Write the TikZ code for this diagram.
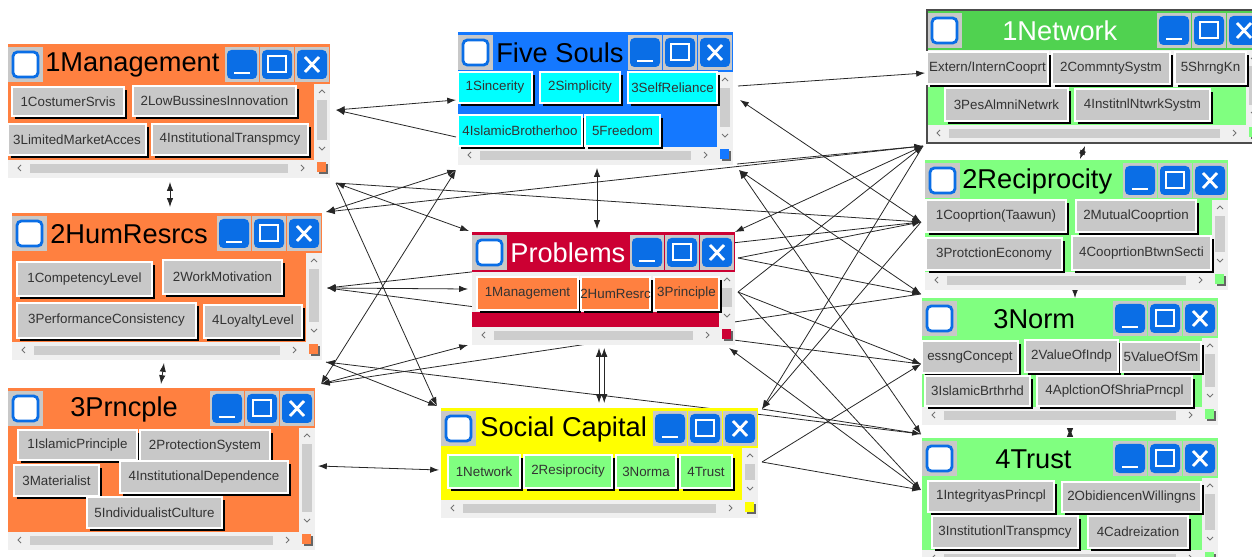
\documentclass[tikz,border=0pt]{standalone}
\usepackage{fontspec}
\setmainfont{Liberation Sans}
\usepackage{tikz}
\usetikzlibrary{arrows.meta,fit,shadows}
\definecolor{winorange}{RGB}{255,128,64}
\definecolor{soulblue}{RGB}{20,120,255}
\definecolor{soulcyan}{RGB}{0,255,255}
\definecolor{crimson}{RGB}{204,0,51}
\definecolor{sunyellow}{RGB}{255,255,0}
\definecolor{lightgreen}{RGB}{128,255,128}
\definecolor{netgreen}{RGB}{80,210,80}
\definecolor{winblue}{RGB}{10,110,230}
\definecolor{btngray}{RGB}{200,200,200}
\definecolor{winbg}{RGB}{240,240,240}
\definecolor{thumbgray}{RGB}{205,205,205}
\newcommand{\appwin}[9]{%
  \fill[winbg] (#1,#2) rectangle (#3,#4);
  \fill[#5] (#1,#2) rectangle (#3,#2+40);
  \fill[#6] (#1,#2+40) rectangle (#3-16,#4-18);
  \fill[btngray] (#1,#2+3) rectangle (#1+35,#2+38);
  \draw[iconbox] (#1+5,#2+8) rectangle (#1+30,#2+33);
  \node[titletext, text=#9, anchor=west] at (#7,#2+21) {#8};
  \foreach \k in {0,1,2} {
    \fill[btngray] (#3-105+35*\k,#2+3) rectangle (#3-71+35*\k,#2+38);
    \fill[winbtn] (#3-103+35*\k,#2+6) rectangle (#3-73+35*\k,#2+35);
  }
  \draw[wglyph] (#3-96,#2+29) -- (#3-80,#2+29);
  \draw[wglyph] (#3-62,#2+12) rectangle (#3-44,#2+28);
  \draw[wglyph, line width=1.6pt] (#3-25,#2+13) -- (#3-11,#2+28) (#3-25,#2+28) -- (#3-11,#2+13);
  \fill[thumb] (#3-13,#2+56) rectangle (#3-3,#4-38);
  \draw[chev] (#3-11,#2+49) -- (#3-8,#2+46) -- (#3-5,#2+49) (#3-11,#4-31) -- (#3-8,#4-28) -- (#3-5,#4-31);
  \fill[thumb] (#1+22,#4-14) rectangle (#3-42,#4-5);
  \draw[chev] (#1+13,#4-13) -- (#1+10,#4-10) -- (#1+13,#4-7) (#3-29,#4-13) -- (#3-26,#4-10) -- (#3-29,#4-7);
  \fill[black!60] (#3-11,#4-14) rectangle (#3-2,#4-4);
  \fill[#6] (#3-13,#4-16) rectangle (#3-4,#4-6);
}

\begin{document}
\begin{tikzpicture}[x=0.02cm, y=-0.02cm, >={Latex[length=5pt,width=3.6pt]},
  link/.style={->, line width=.45pt, black!85},
  both/.style={<->, line width=.45pt, black!85},
  btn/.style={fill=btngray, draw=white, line width=.6pt, inner sep=0pt,
    general shadow={fill=black, shadow xshift=1.7pt, shadow yshift=-1.7pt}},
  btntext/.style={inner sep=0pt, text=black!80, font=\fontsize{7.6}{9}\selectfont},
  titletext/.style={font=\fontsize{15.5}{18}\selectfont, inner sep=0pt},
  iconbox/.style={draw=winblue, fill=white, line width=1.6pt, rounded corners=2.5pt},
  winbtn/.style={fill=winblue, rounded corners=2.5pt},
  wglyph/.style={draw=white, line width=1.2pt},
  thumb/.style={fill=thumbgray},
  chev/.style={draw=black!55, line width=.5pt}]
\useasboundingbox (0,0) rectangle (1252,557);
\fill[white] (0,0) rectangle (1252,557);

\coordinate (mgE1) at (336,110);
\coordinate (mgE2) at (336,183);
\coordinate (mgS) at (170,182);
\coordinate (humN) at (170,207);
\coordinate (humE1) at (326,212);
\coordinate (humE2) at (327,288);
\coordinate (humE3) at (326,362);
\coordinate (humS) at (164,363);
\coordinate (prinN) at (161,384);
\coordinate (prinNE) at (321,384);
\coordinate (prinE) at (318,466);
\coordinate (soW1) at (456,100);
\coordinate (soW2) at (456,137);
\coordinate (soW3) at (456,170);
\coordinate (soS) at (597,168);
\coordinate (soE1) at (738,86);
\coordinate (soE2) at (740,100);
\coordinate (soE3) at (737,164);
\coordinate (soE4) at (739,170);
\coordinate (prbN) at (597,229);
\coordinate (prbW1) at (469,231);
\coordinate (prbW3) at (468,289);
\coordinate (prbW5) at (468,345);
\coordinate (prbS) at (599,348);
\coordinate (prbE1) at (735,232);
\coordinate (prbE2) at (738,258);
\coordinate (prbE3) at (738,292);
\coordinate (prbE4) at (729,348);
\coordinate (socN) at (599,403);
\coordinate (socNW) at (437,406);
\coordinate (socW) at (439,470);
\coordinate (socNE) at (762,409);
\coordinate (socE) at (762,462);
\coordinate (netW) at (925,73);
\coordinate (netSW) at (923,146);
\coordinate (netS) at (1085,146);
\coordinate (reciN) at (1080,159);
\coordinate (reciW) at (921,222);
\coordinate (reciSW) at (921,294);
\coordinate (reciS) at (1075,291);
\coordinate (normN) at (1075,298);
\coordinate (normW) at (921,364);
\coordinate (normSW) at (921,434);
\coordinate (normS) at (1070,428);
\coordinate (trustN) at (1070,437);
\coordinate (trustW) at (921,490);

\draw[both] (mgE1) -- (soW1);
\draw[link] (soW2) -- (mgE1);
\draw[both] (mgS) -- (humN);
\draw[both] (humS) -- (prinN);
\draw[both] (mgE2) -- (prbW1);
\draw[link] (mgE2) -- (socNW);
\draw[link] (mgE2) -- (reciW);
\draw[both] (soW3) -- (humE1);
\draw[both] (soW3) -- (prinNE);
\draw[link] (netSW) -- (humE1);
\draw[both] (humE2) -- (prbW3);
\draw[link] (reciW) -- (humE2);
\draw[link] (normW) -- (humE2);
\draw[both] (prinNE) -- (prbW5);
\draw[link] (reciSW) -- (prinNE);
\draw[link] (humE3) -- (socNW);
\draw[link] (normSW) -- (humE3);
\draw[both] (prinE) -- (socW);
\draw[both] (soS) -- (prbN);
\draw[both] (prbS) -- (socN);
\draw[both] ([xshift=3pt]prbS) -- ([xshift=3pt]socN);
\draw[link] (soE1) -- (netW);
\draw[both] (soE2) -- (reciW);
\draw[link] (soE3) -- (netSW);
\draw[both] (soE4) -- (reciSW);
\draw[both] (soE4) -- (normSW);
\draw[link] (netSW) -- (prbE1);
\draw[link] (prbE2) -- (reciW);
\draw[link] (prbE2) -- (reciSW);
\draw[link] (prbE3) -- (netSW);
\draw[link] (prbE3) -- (normW);
\draw[link] (prbE3) -- (trustW);
\draw[both] (trustW) -- (prbE4);
\draw[link] (netSW) -- (socNE);
\draw[link] (reciW) -- (socNE);
\draw[link] (socNE) -- (normSW);
\draw[link] (socE) -- (normW);
\draw[link] (socE) -- (trustW);
\draw[both] (netS) -- (reciN);
\draw[both] (reciS) -- (normN);
\draw[both] (normS) -- (trustN);

\appwin{8}{44}{330}{178}{winorange}{winorange}{45}{1Management}{black}
\node[btn, fit={(12,87)(124,116)}, label={[btntext]center:1CostumerSrvis}] (mgCust) {};
\node[btn, fit={(133,86)(296,116)}, label={[btntext]center:2LowBussinesInnovation}] (mgInno) {};
\node[btn, fit={(8,124)(146,155)}, label={[btntext]center:3LimitedMarketAcces}] (mgMark) {};
\node[btn, fit={(152,124)(308,155)}, label={[btntext]center:4InstitutionalTranspmcy}] (mgTrans) {};

\appwin{12}{213}{322}{360}{winorange}{winorange}{50}{2HumResrcs}{black}
\node[btn, fit={(17,262)(152,296)}, label={[btntext]center:1CompetencyLevel}] (humComp) {};
\node[btn, fit={(163,260)(282,294)}, label={[btntext]center:2WorkMotivation}] (humMotiv) {};
\node[btn, fit={(17,303)(196,338)}, label={[btntext]center:3PerformanceConsistency}] (humPerf) {};
\node[btn, fit={(204,305)(302,338)}, label={[btntext]center:4LoyaltyLevel}] (humLoyal) {};

\appwin{8}{388}{315}{550}{winorange}{winorange}{70}{3Prncple}{black}
\node[btn, fit={(18,430)(137,460)}, label={[btntext]center:1IslamicPrinciple}] (prinIslam) {};
\node[btn, fit={(140,430)(270,462)}, label={[btntext]center:2ProtectionSystem}] (prinProt) {};
\node[btn, fit={(14,465)(99,496)}, label={[btntext]center:3Materialist}] (prinMat) {};
\node[btn, fit={(120,461)(288,493)}, label={[btntext]center:4InstitutionalDependence}] (prinDep) {};
\node[btn, fit={(87,497)(222,528)}, label={[btntext]center:5IndividualistCulture}] (prinInd) {};

\appwin{458}{32}{733}{165}{soulblue}{soulblue}{496}{Five Souls}{black}
\node[btn, fill=soulcyan, fit={(458,72)(532,103)}, label={[btntext]center:1Sincerity}] (soSinc) {};
\node[btn, fill=soulcyan, fit={(540,72)(620,103)}, label={[btntext]center:2Simplicity}] (soSimp) {};
\node[btn, fill=soulcyan, fit={(628,72)(717,103)}, label={[btntext]center:3SelfReliance}] (soSelf) {};
\node[btn, fill=soulcyan, fit={(458,115)(582,146)}, label={[btntext]center:4IslamicBrotherhoo}] (soBroth) {};
\node[btn, fill=soulcyan, fit={(585,115)(660,146)}, label={[btntext]center:5Freedom}] (soFree) {};

\appwin{472}{232}{735}{345}{crimson}{crimson}{510}{Problems}{white}
\fill[winbg] (472,272) rectangle (719,312);
\node[btn, fill=winorange, fit={(477,277)(578,310)}, label={[btntext]center:1Management}] (prbMgmt) {};
\node[btn, fill=winorange, fit={(581,277)(650,310)}, label={[btntext]center:2HumResrc}] (prbHum) {};
\node[btn, fill=winorange, fit={(654,277)(719,310)}, label={[btntext]center:3Principle}] (prbPrin) {};

\appwin{441}{408}{758}{518}{sunyellow}{sunyellow}{480}{Social Capital}{black}
\node[btn, fill=lightgreen, fit={(448,455)(520,488)}, label={[btntext]center:1Network}] (socNet) {};
\node[btn, fill=lightgreen, fit={(524,455)(612,488)}, label={[btntext]center:2Resiprocity}] (socReci) {};
\node[btn, fill=lightgreen, fit={(616,455)(676,488)}, label={[btntext]center:3Norma}] (socNorm) {};
\node[btn, fill=lightgreen, fit={(680,455)(732,488)}, label={[btntext]center:4Trust}] (socTrust) {};

\appwin{927}{10}{1262}{143}{netgreen}{lightgreen}{1002}{1Network}{white}
\fill[winbg] (927,50) rectangle (1246,87);
\draw[black!70, line width=.8pt] (927,10) rectangle (1262,143);
\node[btn, fit={(927,52)(1048,84)}, label={[btntext]center:Extern/InternCooprt}] (netExt) {};
\node[btn, fit={(1052,52)(1170,84)}, label={[btntext]center:2CommntySystm}] (netComm) {};
\node[btn, fit={(1175,52)(1246,84)}, label={[btntext]center:5ShrngKn}] (netShare) {};
\node[btn, fit={(945,88)(1068,121)}, label={[btntext]center:3PesAlmniNetwrk}] (netAlmni) {};
\node[btn, fit={(1075,89)(1210,121)}, label={[btntext]center:4InstitnlNtwrkSystm}] (netInst) {};

\appwin{925}{160}{1228}{290}{lightgreen}{lightgreen}{962}{2Reciprocity}{black}
\node[btn, fit={(926,200)(1066,232)}, label={[btntext]center:1Cooprtion(Taawun)}] (reciTaa) {};
\node[btn, fit={(1076,200)(1196,232)}, label={[btntext]center:2MutualCooprtion}] (reciMut) {};
\node[btn, fit={(926,238)(1062,270)}, label={[btntext]center:3ProtctionEconomy}] (reciProt) {};
\node[btn, fit={(1072,236)(1211,270)}, label={[btntext]center:4CooprtionBtwnSecti}] (reciSect) {};

\appwin{922}{298}{1218}{425}{lightgreen}{lightgreen}{993}{3Norm}{black}
\node[btn, fit={(922,341)(1018,373)}, label={[btntext]center:essngConcept}] (normBless) {};
\node[btn, fit={(1025,340)(1118,372)}, label={[btntext]center:2ValueOfIndp}] (normIndp) {};
\node[btn, fit={(1121,342)(1201,372)}, label={[btntext]center:5ValueOfSm}] (normSm) {};
\node[btn, fit={(925,376)(1030,406)}, label={[btntext]center:3IslamicBrthrhd}] (normBrth) {};
\node[btn, fit={(1037,376)(1192,406)}, label={[btntext]center:4AplctionOfShriaPrncpl}] (normShria) {};

\appwin{922}{438}{1218}{568}{lightgreen}{lightgreen}{995}{4Trust}{black}
\node[btn, fit={(928,481)(1054,512)}, label={[btntext]center:1IntegrityasPrincpl}] (trustInteg) {};
\node[btn, fit={(1062,482)(1201,512)}, label={[btntext]center:2ObidiencenWillingns}] (trustObid) {};
\node[btn, fit={(932,516)(1078,548)}, label={[btntext]center:3InstitutionlTranspmcy}] (trustTrans) {};
\node[btn, fit={(1088,516)(1188,548)}, label={[btntext]center:4Cadreization}] (trustCadre) {};
\end{tikzpicture}
\end{document}
